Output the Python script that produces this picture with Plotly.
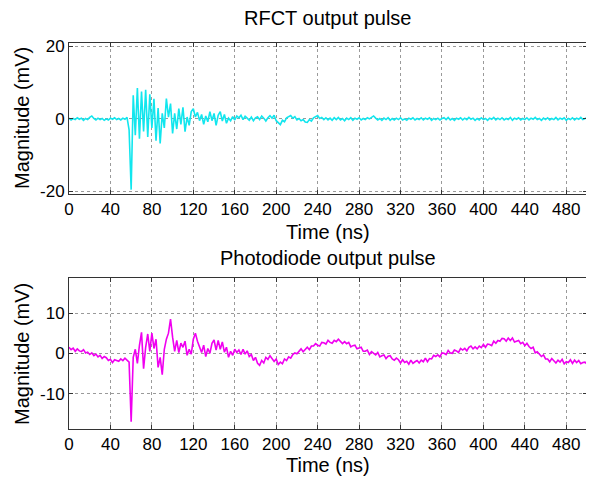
import plotly.graph_objects as go
from plotly.subplots import make_subplots

# Sample times (ns), 2 ns spacing
time_ns = list(range(0, 501, 2))

# RFCT output pulse (mV)
rfct_mv = [
    0.2, -0.3, 0.1, -0.2, 0.3, -0.1, 0.2, -0.4, 0.1, -0.2,
    0.4, 0.8, 0.1, -0.3, 0.2, -0.2, 0.1, -0.4, 0.0, -0.3,
    0.2, -0.1, 0.3, -0.2, 0.1, -0.3, 0.2, -0.1, 0.4,
    -3.0, -19.5, 6.5, -4.5, 8.5, -5.5, 7.5, -3.5, 8.0, -5.0,
    6.8, -2.5, 5.5, -6.0, 3.0, -6.8, 1.5, -2.5, 5.6, 0.5,
    4.2, -4.0, 1.5, -2.8, 2.8, -1.5, 3.2, -3.5, 0.5, -1.8,
    2.0, 2.8, 0.5, 1.8, -0.5, 1.2, -1.5, 0.8, -0.8, 2.0,
    -0.5, 1.5, -1.8, 1.0, 2.0, -0.6, 1.2, -1.2, 0.2, -0.5,
    0.6, -0.3, 0.8, 0.3, 1.0, -0.2, 0.7, 0.2, -0.4, 0.5,
    -0.5, 0.3, 0.6, -0.2, 0.8, 0.2, -0.6, 0.3, 0.9, 0.2,
    1.0, -0.5, -1.2, -1.6, -0.4, -0.8, 0.3, 0.5, 0.9, 0.2,
    0.6, -0.3, 0.1, -0.5, -0.2, -0.9, -1.0, -0.2, -0.6, 0.3,
    0.6, 0.9, 0.1, 0.4, -0.2, 0.3, -0.3, 0.2, -0.4, 0.3,
    -0.2, 0.4, -0.3, 0.1, -0.5, 0.2, -0.2, 0.3, -0.4, 0.2,
    -0.1, 0.3, -0.3, 0.1, -0.2, 0.3, 0.0, 0.4, 0.8, 0.2,
    -0.3, 0.1, -0.4, 0.2, -0.2, 0.3, -0.4, 0.1, -0.3, 0.2,
    -0.2, 0.3, -0.3, 0.0, -0.4, 0.2, -0.1, 0.3, -0.3, 0.1,
    -0.2, 0.3, -0.3, 0.2, -0.1, 0.3, -0.4, 0.1, -0.2, 0.2,
    -0.3, 0.1, 0.3, -0.2, 0.4, -0.3, 0.1, -0.4, 0.2, -0.1,
    0.3, -0.3, 0.2, -0.2, 0.4, -0.1, 0.2, -0.4, 0.1, -0.3,
    0.3, -0.2, 0.1, -0.4, 0.2, -0.1, 0.4, -0.3, 0.2, -0.2,
    0.3, -0.3, 0.1, -0.2, 0.4, -0.4, 0.2, -0.1, 0.3, -0.3,
    0.1, -0.2, 0.3, -0.3, 0.2, -0.1, 0.4, -0.2, 0.1, -0.4,
    0.2, -0.2, 0.3, -0.3, 0.1, -0.2, 0.4, -0.3, 0.2, -0.1,
    0.3, -0.4, 0.1, -0.2, 0.3, -0.3, 0.2, -0.1, 0.4, -0.2,
    0.1, 0.3,
]

# Photodiode output pulse (mV)
photodiode_mv = [
    1.5, 0.9, 1.3, 0.5, 1.1, 0.6, 0.4, 0.9, 0.1, 0.3,
    -0.3, 0.1, -0.6, -0.2, -0.9, -0.5, -1.3, -0.8, -1.1, -1.8,
    -1.5, -2.3, -1.6, -1.9, -2.0, -1.4, -1.8, -1.2, -1.7,
    -2.2, -17.0, -1.0, 1.0, -2.5, 2.0, 5.2, -3.8, 1.5, 4.8,
    0.5, 5.0, 1.2, 3.5, -3.5, -1.0, -5.3, 1.0, 3.5, 5.0,
    8.5, 4.0, 0.5, 3.2, 0.2, 2.5, 1.5, 3.0, -0.5, 1.0,
    -0.2, 3.5, 5.0, 3.0, 1.5, 0.2, 2.0, -0.8, 1.2, 0.0,
    2.5, 3.3, 0.8, 3.2, 1.0, 2.8, 0.3, 1.5, -1.0, 0.5,
    -0.5, 1.0, 0.2, 0.8, -0.3, 1.0, -0.2, 0.6, -0.8, -0.3,
    -1.8, -1.0, -2.5, -3.0, -1.8, -2.4, -1.0, -1.5, -0.6, -1.2,
    -2.0, -1.4, -2.8, -2.2, -2.6, -1.4, -1.8, -0.9, -1.2, -0.3,
    0.1, -0.1, 0.5, 1.1, 0.4, 0.9, 1.5, 0.9, 1.8, 1.8,
    2.4, 2.0, 1.8, 2.7, 2.6, 2.3, 3.2, 2.7, 2.5, 3.2,
    2.9, 3.5, 3.0, 2.4, 2.9, 2.4, 2.7, 1.6, 1.9, 2.0,
    1.1, 1.4, 1.5, 0.5, 0.5, 0.8, -0.3, 0.4, 0.0, -0.4,
    0.2, -0.9, -0.6, -0.4, -1.3, -0.7, -0.6, -1.4, -1.7, -1.2,
    -1.6, -2.4, -1.6, -2.3, -2.0, -2.7, -1.7, -2.5, -2.1, -1.8,
    -2.4, -1.7, -2.1, -1.2, -2.1, -1.3, -1.4, -0.5, -0.8, -0.4,
    -0.9, 0.1, 0.0, -0.3, 0.7, 0.1, 0.0, 0.8, 0.6, 0.2,
    1.2, 0.8, 1.2, 0.6, 1.5, 1.8, 1.1, 1.6, 1.1, 1.8,
    1.4, 2.2, 1.5, 2.3, 2.2, 1.9, 3.0, 2.5, 3.2, 3.0,
    3.7, 3.6, 3.0, 3.8, 3.2, 3.8, 2.8, 3.0, 3.2, 2.4,
    2.7, 1.9, 2.5, 1.7, 1.2, 1.5, 0.1, 0.4, -0.2, -0.8,
    -0.4, -1.4, -1.4, -2.1, -1.3, -1.8, -2.4, -1.7, -2.2, -1.5,
    -2.6, -2.1, -2.3, -1.6, -2.5, -1.7, -2.3, -1.8, -2.6, -2.3,
    -2.2, -2.7,
]

x_ticks = list(range(0, 481, 40))
x_tick_labels = [str(v) for v in x_ticks]
top_y_ticks = [-20, 0, 20]
top_y_labels = ["-20", "0", "20"]
bottom_y_ticks = [-10, 0, 10]
bottom_y_labels = ["-10", "0", "10"]

FONT = "Liberation Sans, Arial, sans-serif"
# The page body has an 8 px margin, so the figure is drawn 8 px in from
# the window's top-left corner; size and place it in window coordinates.
OFF = 8
WIN_W, WIN_H = 594, 477
W, H = WIN_W - OFF, WIN_H - OFF
AX_L, AX_R = 69, 587          # window pixels of plot area left/right
TOP_T, TOP_B = 43, 194        # top axes
BOT_T, BOT_B = 278, 429       # bottom axes
ML = AX_L - OFF
MR = W - (AX_R - OFF)
MT = TOP_T - OFF
MB = H - (BOT_B - OFF)
PH = H - MT - MB

def py(win_px):
    return (BOT_B - win_px) / PH

def px_x(win_px):
    return (win_px - AX_L) / (AX_R - AX_L)

fig = make_subplots(rows=2, cols=1)
fig.add_trace(go.Scatter(x=time_ns, y=rfct_mv, mode="lines",
                         line=dict(color="#12E6EE", width=1.6),
                         showlegend=False), row=1, col=1)
fig.add_trace(go.Scatter(x=time_ns, y=photodiode_mv, mode="lines",
                         line=dict(color="#F000F0", width=1.6),
                         showlegend=False), row=2, col=1)

axis_common = dict(
    showline=True, linecolor="#333333", linewidth=1, mirror="ticks",
    ticks="inside", ticklen=4, tickcolor="#333333",
    showgrid=True, gridcolor="#9a9a9a", griddash="dot", gridwidth=1,
    zeroline=False, automargin=False,
    tickfont=dict(family=FONT, size=17, color="black"),
)

fig.update_xaxes(**axis_common, range=[0, 500], tickvals=x_ticks,
                 ticktext=x_tick_labels, domain=[0, 1])
fig.update_yaxes(**axis_common)
fig.update_yaxes(range=[-20.7, 20.9], tickvals=top_y_ticks,
                 ticktext=top_y_labels,
                 domain=[py(TOP_B), 1.0], row=1, col=1)
fig.update_yaxes(range=[-18.8, 18.7], tickvals=bottom_y_ticks,
                 ticktext=bottom_y_labels,
                 domain=[0.0, py(BOT_T)], row=2, col=1)

ann_font = dict(family=FONT, size=20, color="black")
annotations = [
    dict(text="RFCT output pulse", x=0.5, y=py(18)),
    dict(text="Time (ns)", x=0.5, y=py(232)),
    dict(text="Photodiode output pulse", x=0.5, y=py(258)),
    dict(text="Time (ns)", x=0.5, y=py(465)),
]
for a in annotations:
    fig.add_annotation(xref="paper", yref="paper", showarrow=False,
                       xanchor="center", yanchor="middle", font=ann_font, **a)
for yc in (118, 354):
    fig.add_annotation(text="Magnitude (mV)", xref="paper", yref="paper",
                       x=px_x(22), y=py(yc), textangle=-90, showarrow=False,
                       xanchor="center", yanchor="middle", font=ann_font)

fig.update_layout(
    width=W, height=H,
    margin=dict(l=ML, r=MR, t=MT, b=MB),
    paper_bgcolor="white", plot_bgcolor="white",
    font=dict(family=FONT, size=20, color="black"),
)

fig.write_html("out.html")
